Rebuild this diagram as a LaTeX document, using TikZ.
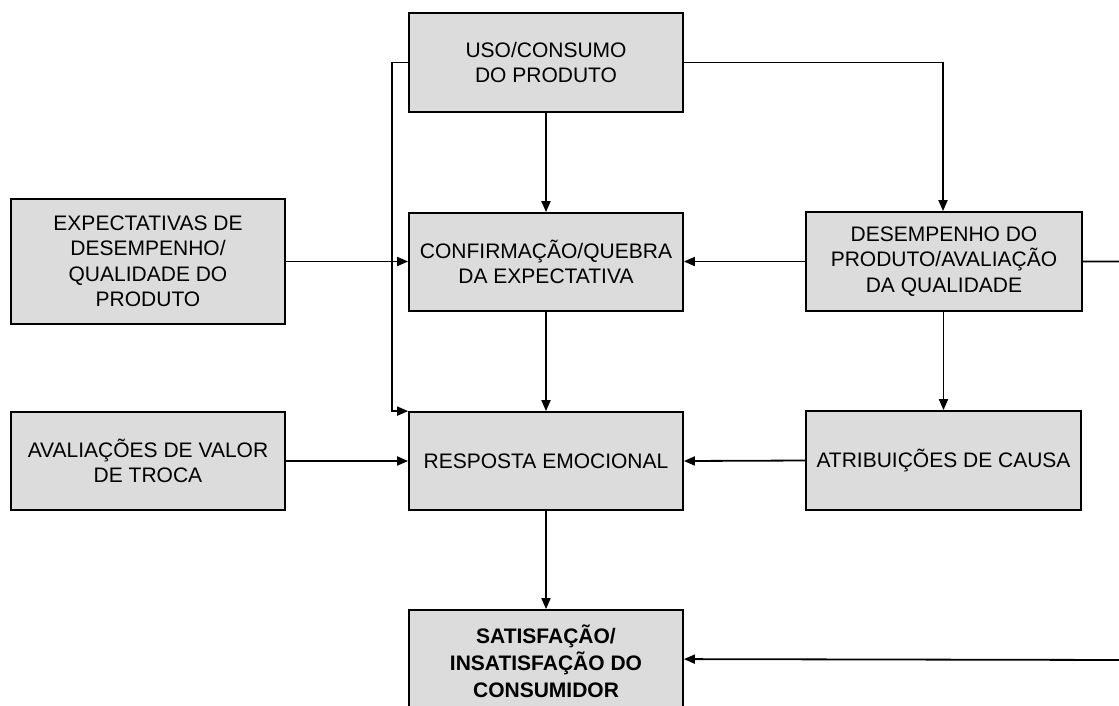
\documentclass[tikz,border=0pt]{standalone}
\usepackage{fontspec}
\setmainfont{Liberation Sans}
\usetikzlibrary{arrows.meta,calc}
\definecolor{boxfill}{HTML}{DCDCDC}
\tikzset{
  box/.style={draw=black, line width=1.8pt, fill=boxfill, rectangle,
    inner sep=0pt, align=center, text=black,
    font=\fontsize{21}{25.5}\selectfont},
  link/.style={draw=black, line width=1.8pt,
    -{Triangle[length=11pt,width=9pt]}}
}
\begin{document}
\begin{tikzpicture}[x=1pt,y=-1pt]
\useasboundingbox (0,0) rectangle (1119,705);
\clip (0,0) rectangle (1119,705);

% boxes
\node[box, minimum width=274pt, minimum height=99pt] (uso) at (546,62.5)
  {USO/CONSUMO\\DO PRODUTO};
\node[box, minimum width=274pt, minimum height=125pt] (expect) at (148,261.5)
  {EXPECTATIVAS DE\\DESEMPENHO/\\QUALIDADE DO\\PRODUTO};
\node[box, minimum width=274pt, minimum height=98pt] (conf) at (546,262)
  {CONFIRMAÇÃO/QUEBRA\\DA EXPECTATIVA};
\node[box, minimum width=276pt, minimum height=99pt] (desemp) at (944,261.5)
  {DESEMPENHO DO\\PRODUTO/AVALIAÇÃO\\DA QUALIDADE};
\node[box, minimum width=274pt, minimum height=98pt] (aval) at (148,461)
  {AVALIAÇÕES DE VALOR\\DE TROCA};
\node[box, minimum width=274pt, minimum height=98pt] (resp) at (546,461)
  {RESPOSTA EMOCIONAL};
\node[box, minimum width=275pt, minimum height=99pt] (atrib) at (943.5,460.5)
  {ATRIBUIÇÕES DE CAUSA};
\node[box, minimum width=274pt, minimum height=110pt,
      font=\bfseries\fontsize{21}{27}\selectfont]
  (satis) at (546,665)
  {\raisebox{5pt}{\begin{tabular}{@{}c@{}}SATISFAÇÃO/\\INSATISFAÇÃO DO\\CONSUMIDOR\end{tabular}}};

% routing points
\coordinate (bendL) at (392,62.5);
\coordinate (bendR) at (943,62.5);
\coordinate (rtop) at (1130,261.5);
\coordinate (rbot) at (1130,660);
\coordinate (satisIn) at ($(satis.north east)+(0,50)$);

% connectors
\draw[link] (uso.south) -- (conf.north);
\draw[link] (uso.west) -- (bendL) |- (resp.north west);
\draw[link] (uso.east) -- (bendR) -- (desemp.north -| bendR);
\draw[link] (expect.east) -- (expect.east -| conf.west);
\draw[link] (desemp.west) -- (desemp.west -| conf.east);
\draw[link] (conf.south) -- (resp.north);
\draw[link] (desemp.south -| atrib.north) -- (atrib.north);
\draw[link] (aval.east) -- (resp.west);
\draw[link] (atrib.west) -- (resp.east);
\draw[link] (resp.south) -- (satis.north);
\draw[link] (desemp.east) -- (rtop) -- (rbot) -- (satisIn);
\end{tikzpicture}
\end{document}
